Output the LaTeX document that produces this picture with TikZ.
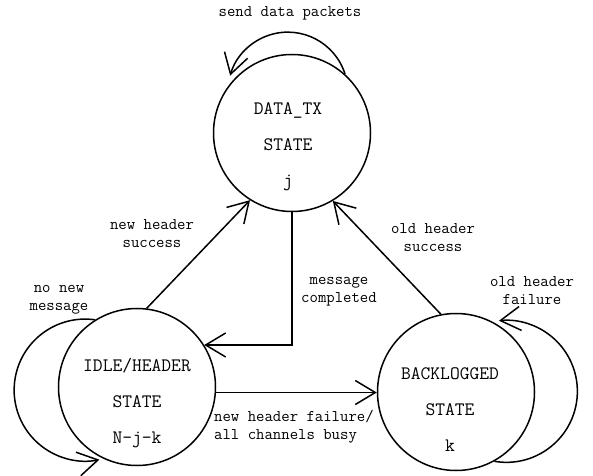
\documentclass[tikz,border=0pt]{standalone}
\usepackage{fontspec}
\usetikzlibrary{arrows.meta}
\tikzset{
  statecircle/.style={circle, draw, line width=1.5bp, minimum size=157bp, inner sep=0pt},
  statetext/.style={font=\ttfamily\fontsize{19bp}{36bp}\selectfont, align=center, inner sep=0pt},
  edgetext/.style={font=\ttfamily\fontsize{16.3bp}{18bp}\selectfont, align=center, inner sep=0pt},
  conn/.style={line width=1.5bp, -{Straight Barb[length=20bp,width=24bp]}},
}
\begin{document}
\begin{tikzpicture}[x=1bp,y=-1bp]
\useasboundingbox (0,0) rectangle (593,476);

% the three states
\node[statecircle] (data) at (292,133) {};
\node[statecircle] (idle) at (137,387) {};
\node[statecircle] (back) at (456,392) {};

\node[statetext] (datalbl) at (288,147) {DATA\_TX\\STATE\\j};
\node[statetext] (idlelbl) at (137,403) {IDLE/HEADER\\STATE\\N-j-k};
\node[statetext] (backlbl) at (450,410) {BACKLOGGED\\STATE\\k};

% transition labels
\node[edgetext] (sendlbl) at (290,13) {send data packets};
\node[edgetext] (newhslbl) at (152,234) {new header\\success};
\node[edgetext] (msglbl) at (339,292) {message\\completed};
\node[edgetext] (ohslbl) at (433,238) {old header\\success};
\node[edgetext] (nonewlbl) at (59,300) {no new\\message};
\node[edgetext] (ohflbl) at (532,291) {old header\\failure};
\node[edgetext, align=left, anchor=west] (nhflbl) at (214,427) {new header failure/\\all channels busy};

% transitions between states
\draw[conn] (idle.83) -- (data.238);
\draw[conn] (data.270) |- (idle.32);
\draw[conn] (back.101) -- (data.301);
\draw[conn] (idle.-4) -- (idle.-4 -| back.west);

% self-loops
\draw[conn] (data.48) arc[start angle=-17.5, end angle=-164, radius=60];
\draw[conn] (idle.122) arc[start angle=-82, end angle=-281.6, radius=71];
\draw[conn] (back.-61) arc[start angle=99.7, end angle=-96, radius=71];
\end{tikzpicture}
\end{document}
